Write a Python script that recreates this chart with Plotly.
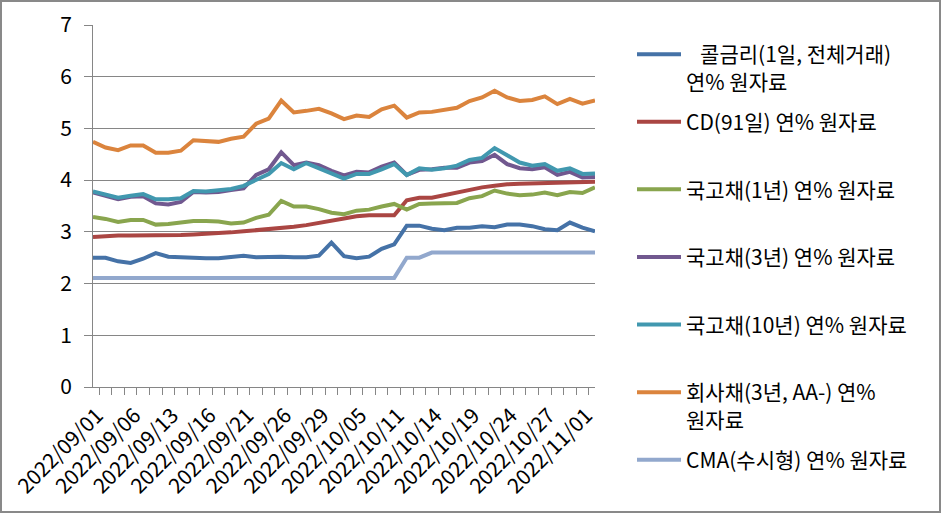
import plotly.graph_objects as go

dates = ["2022/09/01","2022/09/02","2022/09/05","2022/09/06","2022/09/07","2022/09/08",
         "2022/09/13","2022/09/14","2022/09/15","2022/09/16","2022/09/19","2022/09/20",
         "2022/09/21","2022/09/22","2022/09/23","2022/09/26","2022/09/27","2022/09/28",
         "2022/09/29","2022/09/30","2022/10/04","2022/10/05","2022/10/06","2022/10/07",
         "2022/10/11","2022/10/12","2022/10/13","2022/10/14","2022/10/17","2022/10/18",
         "2022/10/19","2022/10/20","2022/10/21","2022/10/24","2022/10/25","2022/10/26",
         "2022/10/27","2022/10/28","2022/10/31","2022/11/01","2022/11/02"]

call_rate = [2.50,2.50,2.43,2.40,2.48,2.59,2.52,2.51,2.49,2.49,
             2.49,2.51,2.54,2.51,2.52,2.52,2.51,2.51,2.54,2.79,
             2.53,2.49,2.52,2.67,2.76,3.12,3.12,3.06,3.03,3.08,
             3.08,3.11,3.09,3.14,3.14,3.11,3.05,3.03,3.18,3.08,3.01]
cd_91 = [2.90,2.92,2.93,2.93,2.93,2.93,2.93,2.94,2.95,2.96,
         2.97,2.99,3.01,3.03,3.05,3.07,3.10,3.13,3.18,3.22,
         3.26,3.30,3.32,3.32,3.32,3.61,3.66,3.66,3.71,3.76,
         3.82,3.86,3.89,3.92,3.93,3.94,3.94,3.95,3.96,3.96,3.97]
ktb_1y = [3.29,3.25,3.19,3.23,3.23,3.14,3.15,3.18,3.21,3.21,
          3.20,3.16,3.18,3.27,3.33,3.60,3.49,3.49,3.44,3.37,
          3.34,3.41,3.43,3.49,3.54,3.43,3.54,3.55,3.56,3.56,
          3.65,3.69,3.80,3.74,3.71,3.72,3.76,3.71,3.77,3.75,3.86]
ktb_3y = [3.76,3.69,3.63,3.68,3.69,3.55,3.53,3.58,3.77,3.76,
          3.77,3.81,3.84,4.10,4.21,4.54,4.29,4.34,4.29,4.18,
          4.09,4.16,4.15,4.26,4.34,4.10,4.20,4.21,4.24,4.24,
          4.34,4.37,4.49,4.31,4.23,4.21,4.25,4.10,4.16,4.05,4.06]
ktb_10y = [3.78,3.72,3.66,3.70,3.73,3.63,3.63,3.65,3.79,3.78,
           3.80,3.83,3.89,4.00,4.12,4.33,4.21,4.33,4.23,4.11,
           4.03,4.12,4.12,4.21,4.31,4.10,4.23,4.20,4.23,4.28,
           4.39,4.43,4.62,4.48,4.34,4.28,4.31,4.18,4.23,4.12,4.13]
corp_3y = [4.74,4.63,4.58,4.67,4.67,4.53,4.53,4.57,4.77,4.76,
           4.74,4.80,4.84,5.09,5.19,5.54,5.31,5.34,5.38,5.29,
           5.18,5.25,5.22,5.37,5.44,5.21,5.31,5.32,5.36,5.40,
           5.53,5.60,5.73,5.60,5.53,5.55,5.62,5.47,5.57,5.48,5.54]
cma = [2.11,2.11,2.11,2.11,2.11,2.11,2.11,2.11,2.11,2.11,
       2.11,2.11,2.11,2.11,2.11,2.11,2.11,2.11,2.11,2.11,
       2.11,2.11,2.11,2.11,2.11,2.50,2.50,2.60,2.60,2.60,
       2.60,2.60,2.60,2.60,2.60,2.60,2.60,2.60,2.60,2.60,2.60]

series_names = [
    "&nbsp;&nbsp;&nbsp;콜금리(1일, 전체거래)<br>연% 원자료",
    "CD(91일) 연% 원자료<br>&nbsp;",
    "국고채(1년) 연% 원자료<br>&nbsp;",
    "국고채(3년) 연% 원자료<br>&nbsp;",
    "국고채(10년) 연% 원자료<br>&nbsp;",
    "회사채(3년, AA-) 연%<br>원자료",
    "CMA(수시형) 연% 원자료<br>&nbsp;",
]
series_values = [call_rate, cd_91, ktb_1y, ktb_3y, ktb_10y, corp_3y, cma]
colors = ["#4572A7", "#AA4643", "#89A54E", "#71588F", "#4198AF", "#DB843D", "#92A8CD"]

tick_labels = [d if i % 3 == 0 else "" for i, d in enumerate(dates)]

FONT = "Noto Sans CJK KR"

fig = go.Figure()
for i, (name, vals, col) in enumerate(zip(series_names, series_values, colors)):
    fig.add_trace(go.Scatter(
        x=dates, y=vals, mode="lines", name=name,
        line=dict(color=col, width=4),
        legendgroup=f"g{i}",
    ))

L, R, T, B = 93, 347, 25, 127
W, H = 942, 514
pw, ph = W - L - R, H - T - B

fig.update_layout(
    width=W, height=H,
    margin=dict(l=L, r=R, t=T, b=B, autoexpand=False),
    paper_bgcolor="white", plot_bgcolor="white",
    font=dict(family=FONT, size=21, color="#000000"),
    showlegend=True,
    legend=dict(
        x=(632 - L) / pw, xanchor="left",
        y=(H - B - 34) / ph, yanchor="top",
        font=dict(family=FONT, size=21, color="#000000"),
        itemwidth=44, valign="top", tracegroupgap=10,
        bgcolor="rgba(0,0,0,0)", borderwidth=0,
        maxheight=600,
    ),
    xaxis=dict(
        type="category", automargin=False,
        tickmode="array", tickvals=dates, ticktext=tick_labels,
        tickangle=-45, tickson="boundaries",
        ticks="outside", ticklen=7, tickcolor="#868686", tickwidth=1,
        showline=True, linecolor="#868686", linewidth=1,
        showgrid=False, zeroline=False,
        ticklabelstandoff=7, ticklabelshift=4,
        tickfont=dict(family=FONT, size=21, color="#000000"),
    ),
    yaxis=dict(
        range=[0, 7], dtick=1, tick0=0, automargin=False,
        ticks="outside", ticklen=8, tickcolor="#868686", tickwidth=1,
        showline=True, linecolor="#868686", linewidth=1,
        showgrid=True, gridcolor="#868686", gridwidth=1,
        zeroline=False, ticklabelstandoff=8,
        tickfont=dict(family=FONT, size=21, color="#000000"),
    ),
    shapes=[dict(
        type="rect", xref="paper", yref="paper",
        x0=(1 - L) / pw, x1=(W - 2 - L) / pw,
        y0=(H - B - (H - 2)) / ph, y1=(H - B - 1) / ph,
        line=dict(color="#898989", width=2), fillcolor="rgba(0,0,0,0)",
        layer="below",
    )],
)

fig.write_html(
    "out.html",
    config={"displayModeBar": False},
    post_script="document.body.style.margin='0px';document.body.style.padding='0px';",
)
